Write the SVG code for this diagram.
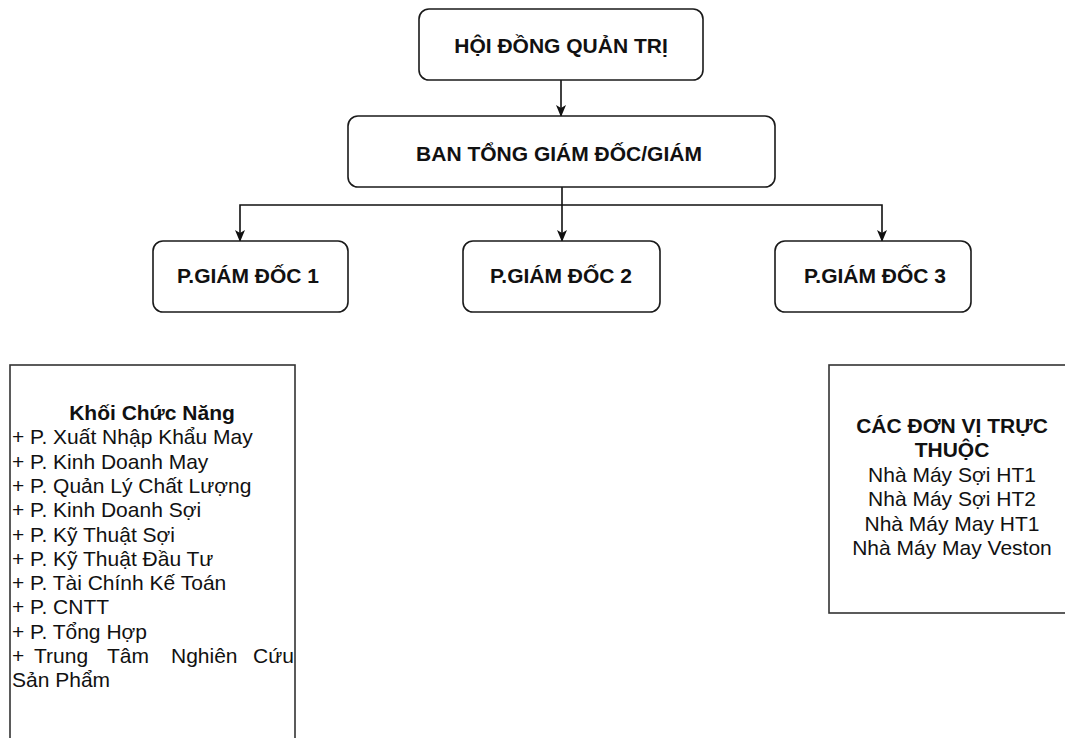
<svg xmlns="http://www.w3.org/2000/svg" width="1065" height="738" viewBox="0 0 1065 738">
<style>
.box{fill:#fff;stroke:#1a1a1a;stroke-width:1.6}
.sq{fill:#fff;stroke:#333;stroke-width:1.6}
.t{font-family:"Liberation Sans",Arial,sans-serif;font-size:21px;fill:#111}
.b{font-weight:bold}
.c{text-anchor:middle}
.ln{fill:none;stroke:#111;stroke-width:1.6}
</style>
<defs>
<marker id="ar" viewBox="0 0 12 10" refX="11" refY="5" markerWidth="12" markerHeight="10" markerUnits="userSpaceOnUse" orient="auto">
<path d="M0,0 L12,5 L0,10 L3,5 Z" fill="#111"/>
</marker>
</defs>
<rect width="1065" height="738" fill="#fff"/>
<g id="connectors">
<path class="ln" d="M561,80 V116" marker-end="url(#ar)"/>
<path class="ln" d="M562,187 V241" marker-end="url(#ar)"/>
<path class="ln" d="M562,205 H240 V241" marker-end="url(#ar)"/>
<path class="ln" d="M562,205 H882 V241" marker-end="url(#ar)"/>
</g>
<g id="hdqt">
<rect class="box" x="419" y="9" width="284" height="71" rx="10"/>
<text class="t b c" x="561" y="53">HỘI ĐỒNG QUẢN TRỊ</text>
</g>
<g id="btgd">
<rect class="box" x="348" y="116" width="427" height="71" rx="10"/>
<text class="t b c" x="559" y="161">BAN TỔNG GIÁM ĐỐC/GIÁM</text>
</g>
<g id="pgd1">
<rect class="box" x="153" y="241" width="195" height="71" rx="10"/>
<text class="t b c" x="248" y="283">P.GIÁM ĐỐC 1</text>
</g>
<g id="pgd2">
<rect class="box" x="463" y="241" width="197" height="71" rx="10"/>
<text class="t b c" x="561" y="283">P.GIÁM ĐỐC 2</text>
</g>
<g id="pgd3">
<rect class="box" x="775" y="241" width="196" height="71" rx="10"/>
<text class="t b c" x="875" y="283">P.GIÁM ĐỐC 3</text>
</g>
<g id="khoi-chuc-nang">
<rect class="sq" x="10" y="365" width="285" height="380"/>
<text class="t b c" x="152" y="420">Khối Chức Năng</text>
<text class="t" x="12" y="444">+ P. Xuất Nhập Khẩu May</text>
<text class="t" x="12" y="469">+ P. Kinh Doanh May</text>
<text class="t" x="12" y="493">+ P. Quản Lý Chất Lượng</text>
<text class="t" x="12" y="517">+ P. Kinh Doanh Sợi</text>
<text class="t" x="12" y="542">+ P. Kỹ Thuật Sợi</text>
<text class="t" x="12" y="566">+ P. Kỹ Thuật Đầu Tư</text>
<text class="t" x="12" y="590">+ P. Tài Chính Kế Toán</text>
<text class="t" x="12" y="614">+ P. CNTT</text>
<text class="t" x="12" y="639">+ P. Tổng Hợp</text>
<text class="t" y="663"><tspan x="12">+</tspan><tspan x="34">Trung</tspan><tspan x="107">Tâm</tspan><tspan x="171">Nghiên</tspan><tspan x="253">Cứu</tspan></text>
<text class="t" x="12" y="687">Sản Phẩm</text>
</g>
<g id="don-vi-truc-thuoc">
<rect class="sq" x="829" y="365" width="250" height="248"/>
<text class="t b c" x="952" y="433">CÁC ĐƠN VỊ TRỰC</text>
<text class="t b c" x="952" y="457">THUỘC</text>
<text class="t c" x="952" y="482">Nhà Máy Sợi HT1</text>
<text class="t c" x="952" y="506">Nhà Máy Sợi HT2</text>
<text class="t c" x="952" y="531">Nhà Máy May HT1</text>
<text class="t c" x="952" y="555">Nhà Máy May Veston</text>
</g>
</svg>
